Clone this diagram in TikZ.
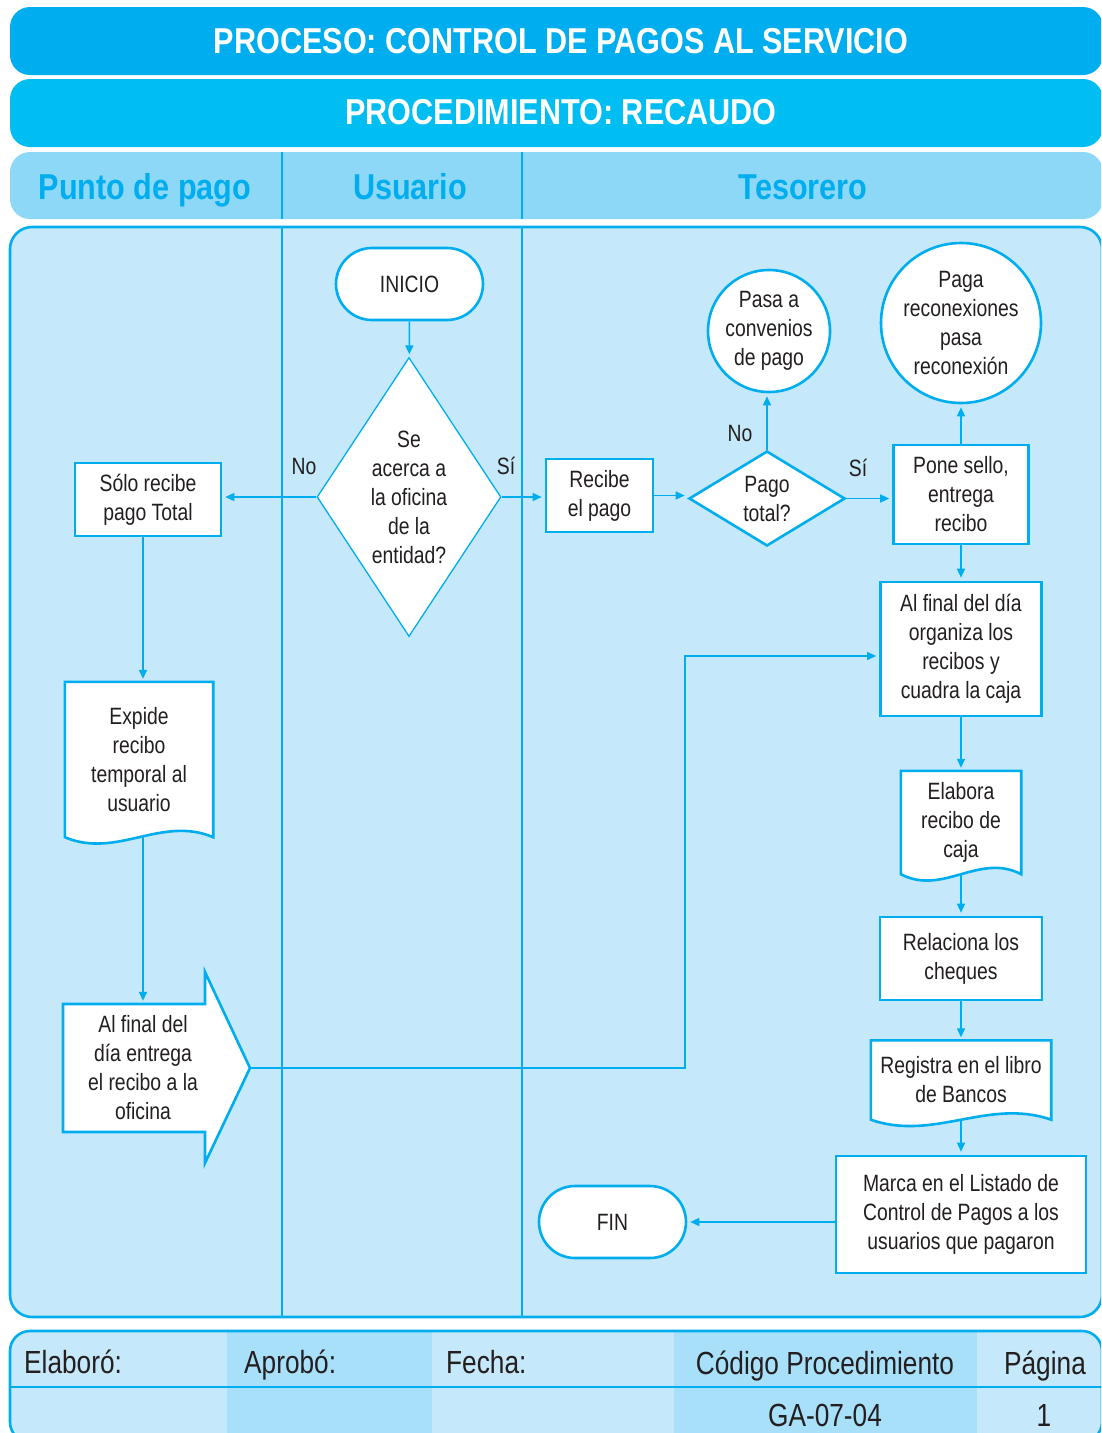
\documentclass[tikz,border=0pt]{standalone}
\usepackage{fontspec}
\setmainfont{Liberation Sans}[FakeStretch=0.82]
\newfontfamily\titlefont{Liberation Sans}[FakeStretch=0.85]
\usetikzlibrary{shapes.geometric,arrows.meta,calc}

\definecolor{cyanA}{HTML}{00AEEF}
\definecolor{cyanB}{HTML}{00BEF2}
\definecolor{headfill}{HTML}{8ED8F7}
\definecolor{bodyfill}{HTML}{C5E8FA}
\definecolor{footdark}{HTML}{A9E0F9}
\definecolor{ink}{HTML}{231F20}

\pgfdeclarelayer{back}
\pgfdeclarelayer{outline}
\pgfsetlayers{back,outline,main}

\tikzset{
  txt/.style={font=\fontsize{23.6pt}{29pt}\selectfont, text=ink, align=center, inner sep=0pt},
  procbox/.style={txt, rectangle, draw=cyanA, line width=2.6pt, fill=white},
  termbox/.style={procbox, rounded corners=36pt},
  circbox/.style={txt, circle, draw=cyanA, line width=2.6pt, fill=white},
  decbox/.style={txt, diamond, draw=cyanA, fill=white},
  docbox/.style={txt, rectangle},
  lbl/.style={txt},
  sz/.style 2 args={minimum width=#1, minimum height=#2},
  flow/.style={draw=cyanA, line width=1.4pt, -{Triangle[length=9pt,width=8pt]}, shorten >=3pt},
  titletxt/.style={font=\fontsize{36pt}{40pt}\titlefont\bfseries, text=white, inner sep=0pt},
  headtxt/.style={font=\fontsize{36pt}{40pt}\titlefont\bfseries, text=cyanA, inner sep=0pt},
  foottxt/.style={font=\fontsize{32pt}{36pt}\selectfont, text=ink, inner sep=0pt},
  outl/.style={draw=cyanA, line width=2.6pt, fill=white, line join=miter},
}

% document symbol: straight sides, wavy bottom edge
\newcommand\docoutline[1]{%
  \begin{pgfonlayer}{outline}
    \draw[outl] (#1.north west) -- (#1.south west)
      .. controls ($(#1.south west)!0.35!(#1.south east)+(0,22)$)
         and ($(#1.south west)!0.65!(#1.south east)+(0,-22)$) .. (#1.south east)
      -- (#1.north east) -- cycle;
  \end{pgfonlayer}}

\begin{document}
\begin{tikzpicture}[x=1pt,y=-1pt]
\useasboundingbox (0,0) rectangle (1101,1433);

% ---- panels, lanes and footer table ----
\begin{pgfonlayer}{back}
\begin{scope}
  \clip (0,0) rectangle (1101,1433);
  \fill[cyanA, rounded corners=20pt] (10,7) rectangle (1103,75);
  \fill[cyanB, rounded corners=20pt] (10,79) rectangle (1103,147);
  \fill[headfill, rounded corners=20pt] (10,152) rectangle (1103,219);
  \draw[cyanA, line width=2.4pt] (282,152) -- (282,219) (522,152) -- (522,219);
  \draw[cyanA, line width=2.6pt, fill=bodyfill, rounded corners=22pt] (10,227) rectangle (1102,1317);
  \draw[cyanA, line width=2.4pt] (282,228) -- (282,1316) (522,228) -- (522,1316);
  % footer
  \fill[bodyfill, rounded corners=20pt] (10,1331) rectangle (1102,1442);
  \fill[footdark] (227,1332) rectangle (432,1440);
  \fill[footdark] (674,1332) rectangle (977,1440);
  \draw[cyanA, line width=2.6pt] (10,1387) -- (1102,1387);
  \draw[cyanA, line width=2.6pt, rounded corners=20pt] (10,1331) rectangle (1102,1442);
\end{scope}
\end{pgfonlayer}

% ---- titles ----
\node[titletxt, anchor=base] (title) at (561,53) {PROCESO: CONTROL DE PAGOS AL SERVICIO};
\node[titletxt, anchor=base] (proc) at (561,124) {PROCEDIMIENTO: RECAUDO};
\node[headtxt, anchor=base] (lane1) at (145,199) {Punto de pago};
\node[headtxt, anchor=base] (lane2) at (410,199) {Usuario};
\node[headtxt, anchor=base] (lane3) at (803,199) {Tesorero};

% ---- flow nodes ----
\node[termbox, sz={147pt}{72pt}] (inicio) at (409.5,284) {INICIO};
\node[decbox, line width=1.3pt, aspect=0.66, sz={184pt}{279pt}] (acerca) at (409,497)
  {Se\\acerca a\\la oficina\\de la\\entidad?};
\node[procbox, sz={146pt}{73pt}] (solo) at (148,499.5) {Sólo recibe\\pago Total};
\node[docbox, sz={148pt}{155pt}] (expide) at (139,759.5) {Expide\\recibo\\temporal al\\usuario};
\node[docbox, sz={142pt}{128pt}] (entrega) at (143,1068) {Al final del\\día entrega\\el recibo a la\\oficina};
\node[procbox, sz={107pt}{73pt}] (recibe) at (599.5,495.5) {Recibe\\el pago};
\node[decbox, line width=2.6pt, aspect=1.64, sz={156pt}{95pt}] (pago) at (767,498.5) {Pago\\total?};
\node[circbox, minimum size=122pt] (conv) at (769,331) {Pasa a\\convenios\\de pago};
\node[circbox, minimum size=160pt] (recon) at (961,323) {Paga\\reconexiones\\pasa\\reconexión};
\node[procbox, sz={135pt}{99pt}] (pone) at (961,494.5) {Pone sello,\\entrega\\recibo};
\node[procbox, sz={161pt}{134pt}] (organiza) at (961,649) {Al final del día\\organiza los\\recibos y\\cuadra la caja};
\node[docbox, sz={120pt}{103pt}] (elabora) at (961,822.5) {Elabora\\recibo de\\caja};
\node[procbox, sz={162pt}{83pt}] (relac) at (961,958.5) {Relaciona los\\cheques};
\node[docbox, sz={180pt}{79pt}] (registra) at (961,1080) {Registra en el libro\\de Bancos};
\node[procbox, sz={250pt}{117pt}] (marca) at (961,1214.5) {Marca en el Listado de\\Control de Pagos a los\\usuarios que pagaron};
\node[termbox, sz={147pt}{72pt}] (fin) at (612.5,1222) {FIN};

% document and off-page outlines
\docoutline{expide}
\docoutline{elabora}
\docoutline{registra}
\coordinate (etip) at ($(entrega.center)+(107,0)$);
\begin{pgfonlayer}{outline}
  \draw[outl] ($(entrega.center)+(-80,-64)$) -- ($(entrega.center)+(62,-64)$)
    -- ($(entrega.center)+(62,-96)$) -- (etip) -- ($(entrega.center)+(62,95)$)
    -- ($(entrega.center)+(62,64)$) -- ($(entrega.center)+(-80,64)$) -- cycle;
\end{pgfonlayer}

% ---- branch labels ----
\node[lbl] (no1) at (304,466) {No};
\node[lbl] (si1) at (506,466) {Sí};
\node[lbl] (no2) at (740,433) {No};
\node[lbl] (si2) at (858,468) {Sí};

% ---- connectors ----
\draw[flow] (inicio) -- (acerca);
\draw[flow] (acerca.west) -- (acerca.west -| solo.east);
\draw[flow] (acerca.east) -- (acerca.east -| recibe.west);
\draw[flow] (solo.south -| entrega.north) -- (expide.north -| entrega.north);
\draw[flow] (expide.south -| entrega.north) -- (entrega.north);
\draw[flow] (recibe.east) -- (recibe.east -| pago.west);
\draw[flow] (pago.north) -- (pago.north |- conv.south);
\draw[flow] (pago.east) -- (pago.east -| pone.west);
\draw[flow] (pone.north) -- (recon.south);
\draw[flow] (pone.south) -- (organiza.north);
\draw[flow] (organiza.south) -- (elabora.north);
\draw[flow] (elabora.south) -- (relac.north);
\draw[flow] (relac.south) -- (registra.north);
\draw[flow] (registra.south) -- (marca.north);
\draw[flow] (fin.east -| marca.west) -- (fin.east);
\coordinate (bend) at (685,656);
\draw[flow] (etip) -| (bend) -- (bend -| organiza.west);

% ---- footer texts ----
\node[foottxt, anchor=base west] (elab) at (24,1373) {Elaboró:};
\node[foottxt, anchor=base west] (aprob) at (244,1373) {Aprobó:};
\node[foottxt, anchor=base west] (fecha) at (446,1373) {Fecha:};
\node[foottxt, anchor=base] (codigo) at (825,1374) {Código Procedimiento};
\node[foottxt, anchor=base] (pagina) at (1045,1374) {Página};
\node[foottxt, anchor=base] (codval) at (825,1426) {GA-07-04};
\node[foottxt, anchor=base] (pagval) at (1044,1426) {1};
\end{tikzpicture}
\end{document}
